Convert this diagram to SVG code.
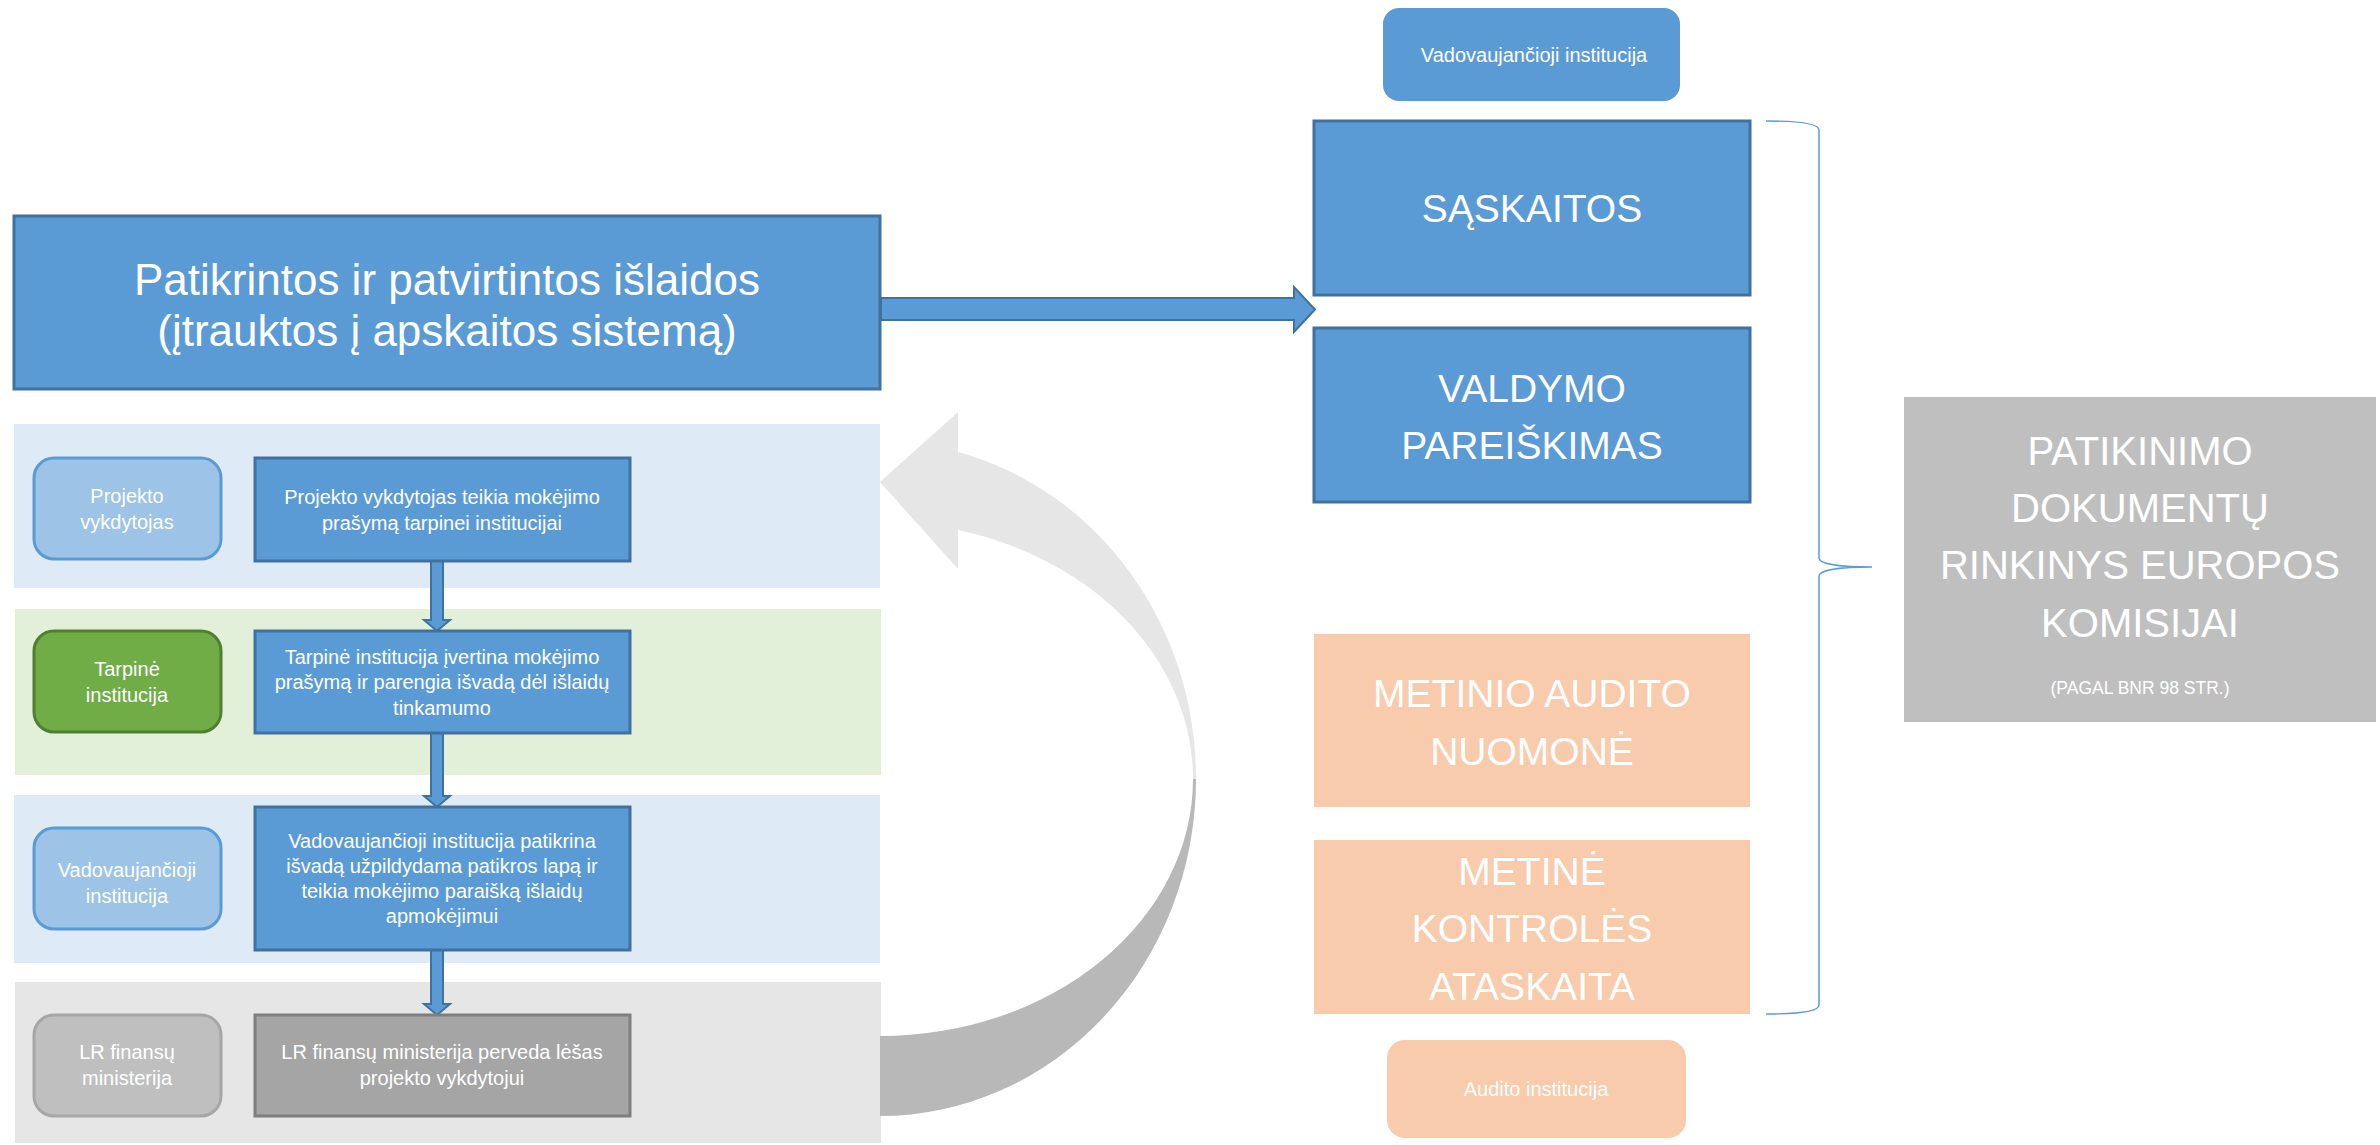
<svg xmlns="http://www.w3.org/2000/svg" width="2380" height="1145" viewBox="0 0 2380 1145">
<style>
text{font-family:"Liberation Sans",Arial,sans-serif;fill:#ffffff;text-anchor:middle}
.t20{font-size:20px}
.t40{font-size:39px}
.blue{fill:#5b9bd5;stroke:#41719c;stroke-width:3}
.peach{fill:#f8cbad}
.lblue{fill:#9dc3e6;stroke:#5b9bd5;stroke-width:3}
.lgreen{fill:#70ad47;stroke:#507e32;stroke-width:3}
.lgray{fill:#bfbfbf;stroke:#a6a6a6;stroke-width:3}
.conn{fill:#5b9bd5;stroke:#41719c;stroke-width:2;stroke-linejoin:miter}
</style>
<rect width="2380" height="1145" fill="#ffffff"/>
<g id="lanes">
<rect x="14" y="424" width="866" height="164" fill="#deebf7"/>
<rect x="15" y="609" width="866" height="166" fill="#e2f0d9"/>
<rect x="14" y="795" width="866" height="168" fill="#deebf7"/>
<rect x="15" y="982" width="866" height="161" fill="#e6e6e6"/>
</g>
<g id="connectors">
<path d="M1196,779 A316,337 0 0 1 880,1116 L880,1036 A313,257 0 0 0 1193,779 Z" fill="#b8b8b8"/>
<path d="M958,452 A316,337 0 0 1 1196,779 L1193,779 A313,257 0 0 0 958,530 L958,569 L880,482 L958,412 Z" fill="#e6e6e6"/>
<path class="conn" d="M881,298 L1294,298 L1294,287 L1315,309.5 L1294,332 L1294,320 L881,320 Z"/>
<path class="conn" d="M431,561 L443,561 L443,620 L450,620 L437,631 L424,620 L431,620 Z"/>
<path class="conn" d="M431,733 L443,733 L443,796 L450,796 L437,807 L424,796 L431,796 Z"/>
<path class="conn" d="M431,950 L443,950 L443,1004 L450,1004 L437,1015 L424,1004 L431,1004 Z"/>
</g>
<g id="main-expenses">
<rect class="blue" x="14" y="216" width="866" height="173"/>
<text x="447" y="295" style="font-size:44px">Patikrintos ir patvirtintos išlaidos</text>
<text x="447" y="346" style="font-size:44px">(įtrauktos į apskaitos sistemą)</text>
</g>
<g id="label-projekto">
<rect class="lblue" x="34" y="458" width="187" height="101" rx="20"/>
<text class="t20" x="127" y="503">Projekto</text>
<text class="t20" x="127" y="529">vykdytojas</text>
</g>
<g id="step-1">
<rect class="blue" x="255" y="458" width="375" height="103"/>
<text class="t20" x="442" y="504">Projekto vykdytojas teikia mokėjimo</text>
<text class="t20" x="442" y="530">prašymą tarpinei institucijai</text>
</g>
<g id="label-tarpine">
<rect class="lgreen" x="34" y="631" width="187" height="101" rx="20"/>
<text class="t20" x="127" y="676">Tarpinė</text>
<text class="t20" x="127" y="702">institucija</text>
</g>
<g id="step-2">
<rect class="blue" x="255" y="631" width="375" height="102"/>
<text class="t20" x="442" y="664">Tarpinė institucija įvertina mokėjimo</text>
<text class="t20" x="442" y="689">prašymą ir parengia išvadą dėl išlaidų</text>
<text class="t20" x="442" y="715">tinkamumo</text>
</g>
<g id="label-vadovaujancioji">
<rect class="lblue" x="34" y="828" width="187" height="101" rx="20"/>
<text class="t20" x="127" y="877">Vadovaujančioji</text>
<text class="t20" x="127" y="903">institucija</text>
</g>
<g id="step-3">
<rect class="blue" x="255" y="807" width="375" height="143"/>
<text class="t20" x="442" y="848">Vadovaujančioji institucija patikrina</text>
<text class="t20" x="442" y="873">išvadą užpildydama patikros lapą ir</text>
<text class="t20" x="442" y="898">teikia mokėjimo paraišką išlaidų</text>
<text class="t20" x="442" y="923">apmokėjimui</text>
</g>
<g id="label-lr-finansu">
<rect class="lgray" x="34" y="1015" width="187" height="101" rx="20"/>
<text class="t20" x="127" y="1059">LR finansų</text>
<text class="t20" x="127" y="1085">ministerija</text>
</g>
<g id="step-4">
<rect x="255" y="1015" width="375" height="101" fill="#a5a5a5" stroke="#7f7f7f" stroke-width="3"/>
<text class="t20" x="442" y="1059">LR finansų ministerija perveda lėšas</text>
<text class="t20" x="442" y="1085">projekto vykdytojui</text>
</g>
<g id="top-vadovaujancioji">
<rect x="1383" y="8" width="297" height="93" rx="16" fill="#5b9bd5"/>
<text class="t20" x="1534" y="62">Vadovaujančioji institucija</text>
</g>
<g id="saskaitos">
<rect class="blue" x="1314" y="121" width="436" height="174"/>
<text class="t40" x="1532" y="222">SĄSKAITOS</text>
</g>
<g id="valdymo">
<rect class="blue" x="1314" y="328" width="436" height="174"/>
<text class="t40" x="1532" y="402">VALDYMO</text>
<text class="t40" x="1532" y="459">PAREIŠKIMAS</text>
</g>
<g id="metinio-audito">
<rect class="peach" x="1314" y="634" width="436" height="173"/>
<text class="t40" x="1532" y="707">METINIO AUDITO</text>
<text class="t40" x="1532" y="765">NUOMONĖ</text>
</g>
<g id="metine-kontroles">
<rect class="peach" x="1314" y="840" width="436" height="174"/>
<text class="t40" x="1532" y="885">METINĖ</text>
<text class="t40" x="1532" y="942">KONTROLĖS</text>
<text class="t40" x="1532" y="1000">ATASKAITA</text>
</g>
<g id="audito-institucija">
<rect class="peach" x="1387" y="1040" width="299" height="98" rx="18"/>
<text class="t20" x="1536" y="1096">Audito institucija</text>
</g>
<g id="brace">
<path d="M1766,121 C1800,121 1819,124 1819,130 L1819,558 C1819,564 1840,567 1872,567 C1840,567 1819,570 1819,576 L1819,1005 C1819,1011 1800,1014 1766,1014" fill="none" stroke="#5b9bd5" stroke-width="1.5"/>
</g>
<g id="patikinimo">
<rect x="1904" y="397" width="472" height="325" fill="#bfbfbf"/>
<text x="2140" y="465" style="font-size:40px">PATIKINIMO</text>
<text x="2140" y="522" style="font-size:40px">DOKUMENTŲ</text>
<text x="2140" y="579" style="font-size:40px">RINKINYS EUROPOS</text>
<text x="2140" y="637" style="font-size:40px">KOMISIJAI</text>
<text x="2140" y="694" style="font-size:17.5px">(PAGAL BNR 98 STR.)</text>
</g>
</svg>
